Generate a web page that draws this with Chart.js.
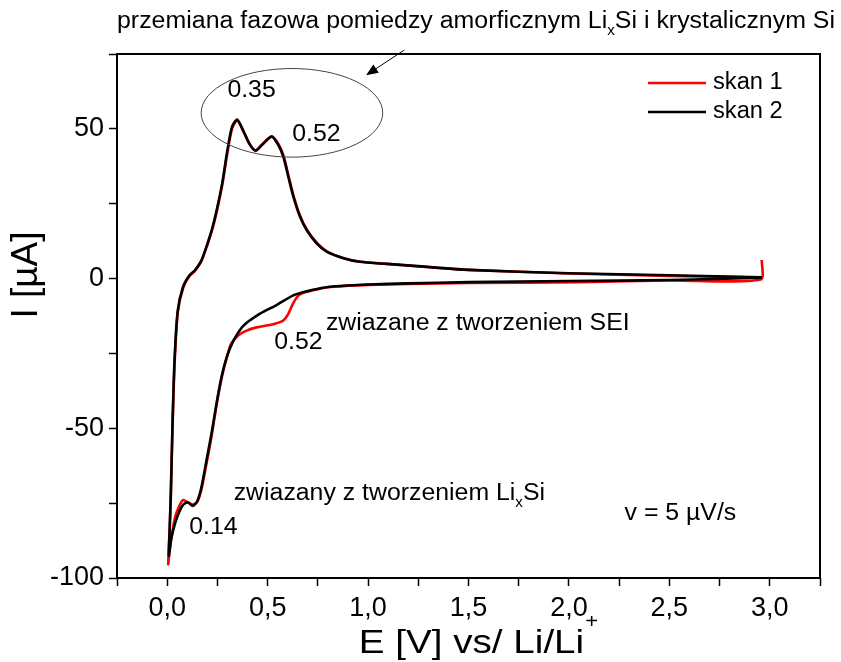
<!DOCTYPE html>
<html>
<head>
<meta charset="utf-8">
<script src="https://cdn.jsdelivr.net/npm/chart.js@4.4.0/dist/chart.umd.min.js"></script>
<style>
    html, body { margin: 0; padding: 0; background: #fff; }
</style>
</head>
<body>
<canvas id="cvChart" width="841" height="662"></canvas>
<script>
// Series names and colours
var seriesNames = ['skan 1', 'skan 2'];
var seriesColors = ['#ff0000', '#000000'];

// Scan 1 (red): cathodic sweep 2.96 -> 0 V, then anodic back to 2.96 V
var scan1E = [2.96, 2.955, 2.5, 2.06, 1.5, 1.2, 1.0, 0.9, 0.8, 0.72, 0.675, 0.65, 0.625, 0.603, 0.578, 0.54, 0.495, 0.445, 0.395, 0.353, 0.318, 0.296, 0.27, 0.245, 0.22, 0.195, 0.17, 0.15, 0.128, 0.1, 0.078, 0.06, 0.04, 0.022, 0.01, 0.005,
              0.012, 0.018, 0.026, 0.037, 0.053, 0.08, 0.11, 0.137, 0.17, 0.2, 0.226, 0.251, 0.276, 0.301, 0.324, 0.349, 0.379, 0.41, 0.44, 0.47, 0.52, 0.555, 0.58, 0.605, 0.63, 0.663, 0.696, 0.746, 0.796, 0.88, 0.96, 1.093, 1.3, 1.5, 2.0, 2.5, 2.96];
var scan1I = [6.2, -0.3, -0.6, -1.2, -1.5, -1.8, -2.1, -2.4, -2.9, -4.0, -4.8, -5.9, -8.5, -11.8, -14.0, -15.0, -15.7, -16.3, -17.4, -19.0, -21.8, -26.5, -33.5, -42.5, -53.0, -62.0, -70.5, -74.5, -75.5, -74.6, -74.0, -76.0, -79.5, -86.0, -92.0, -95.4,
              -84.0, -72.0, -50.0, -28.0, -11.0, -3.0, 0.8, 2.5, 5.8, 11.3, 16.8, 23.7, 32.0, 42.6, 50.3, 52.8, 49.2, 44.8, 42.6, 44.6, 47.5, 44.8, 40.8, 34.0, 27.4, 20.7, 16.2, 11.8, 9.0, 6.8, 5.6, 4.9, 3.8, 2.9, 1.7, 0.9, 0.3];

// Scan 2 (black)
var scan2E = [2.96, 2.5, 2.0, 1.5, 1.2, 1.0, 0.9, 0.8, 0.72, 0.675, 0.625, 0.54, 0.46, 0.38, 0.33, 0.296, 0.27, 0.245, 0.22, 0.195, 0.17, 0.15, 0.128, 0.103, 0.08, 0.062, 0.04, 0.02, 0.008,
              0.012, 0.018, 0.026, 0.036, 0.052, 0.078, 0.11, 0.137, 0.17, 0.2, 0.225, 0.25, 0.275, 0.3, 0.322, 0.348, 0.378, 0.41, 0.44, 0.47, 0.52, 0.553, 0.578, 0.603, 0.628, 0.661, 0.694, 0.744, 0.794, 0.877, 0.96, 1.093, 1.3, 1.5, 2.0, 2.5, 2.96];
var scan2I = [0.3, -0.5, -0.8, -1.2, -1.6, -2.0, -2.3, -2.8, -3.8, -4.6, -5.7, -9.0, -11.8, -15.7, -20.7, -26.3, -33.0, -41.9, -52.0, -60.9, -69.8, -74.3, -75.9, -74.8, -75.5, -77.6, -81.5, -87.0, -92.6,
              -84.0, -72.0, -50.0, -28.0, -11.0, -2.9, 1.0, 2.7, 6.0, 11.6, 17.0, 24.0, 32.3, 43.0, 50.5, 53.1, 49.5, 45.0, 42.8, 44.5, 47.4, 44.6, 40.7, 34.0, 27.4, 20.7, 16.2, 11.8, 9.0, 6.8, 5.6, 4.9, 3.9, 2.9, 1.8, 1.1, 0.4];

// Axis ranges
var xMin = -0.25, xMax = 3.25, xStep = 0.25;
var yMin = -100, yMax = 75, yStep = 25;

function toPoints(es, is) {
    return es.map(function (e, k) { return { x: e, y: is[k] }; });
}

var FONT = '"Liberation Sans", Arial, sans-serif';

// draw text squeezed/stretched horizontally, returns drawn width
function putText(ctx, txt, x, y, size, sx, align, base) {
    ctx.save();
    ctx.font = size + 'px ' + FONT;
    ctx.textBaseline = base || 'middle';
    ctx.textAlign = 'left';
    var w = ctx.measureText(txt).width * sx;
    var x0 = x;
    if (align === 'center') x0 = x - w / 2;
    if (align === 'right') x0 = x - w;
    ctx.translate(x0, y);
    ctx.scale(sx, 1);
    ctx.fillStyle = '#000';
    ctx.fillText(txt, 0, 0);
    ctx.restore();
    return w;
}

function textWidth(ctx, txt, size) {
    ctx.save();
    ctx.font = size + 'px ' + FONT;
    var w = ctx.measureText(txt).width;
    ctx.restore();
    return w;
}

// annotations (data units)
var notes = [
    { t: '0.35', e: 0.42, i: 62.9, align: 'center' },
    { t: '0.52', e: 0.743, i: 48.2, align: 'center' },
    { t: '0.52', e: 0.653, i: -21.3, align: 'center' },
    { t: '0.14', e: 0.23, i: -83.3, align: 'center' },
    { t: 'zwiazane z tworzeniem SEI', e: 0.79, i: -15.0, align: 'left' },
    { t: 'v = 5 \u00b5V/s', e: 2.555, i: -78.6, align: 'center' }
];

var decorPlugin = {
    id: 'decor',
    afterDraw: function (chart) {
        var ctx = chart.ctx;
        var a = chart.chartArea;
        var sx = chart.scales.x, sy = chart.scales.y;
        var px = function (e) { return sx.getPixelForValue(e); };
        var py = function (i) { return sy.getPixelForValue(i); };

        // frame
        ctx.save();
        ctx.strokeStyle = '#000';
        ctx.lineWidth = 2;
        ctx.strokeRect(a.left, a.top, a.right - a.left, a.bottom - a.top);
        ctx.restore();

        // ellipse round the anodic peaks
        ctx.save();
        ctx.strokeStyle = '#444';
        ctx.lineWidth = 1;
        ctx.beginPath();
        var cx = px(0.621), cy = py(55.35);
        ctx.ellipse(cx, cy, px(0.621 + 0.452) - cx, cy - py(55.35 + 14.8), 0, 0, Math.PI * 2);
        ctx.stroke();
        ctx.restore();

        // arrow
        var tx = px(1.18), ty = py(76.3), hx = px(0.99), hy = py(67.9);
        var ang = Math.atan2(hy - ty, hx - tx);
        ctx.save();
        ctx.strokeStyle = '#000';
        ctx.fillStyle = '#000';
        ctx.lineWidth = 1;
        ctx.beginPath();
        ctx.moveTo(tx, ty);
        ctx.lineTo(hx - 8 * Math.cos(ang), hy - 8 * Math.sin(ang));
        ctx.stroke();
        ctx.beginPath();
        ctx.moveTo(hx, hy);
        ctx.lineTo(hx - 12 * Math.cos(ang) + 5 * Math.sin(ang), hy - 12 * Math.sin(ang) - 5 * Math.cos(ang));
        ctx.lineTo(hx - 12 * Math.cos(ang) - 5 * Math.sin(ang), hy - 12 * Math.sin(ang) + 5 * Math.cos(ang));
        ctx.closePath();
        ctx.fill();
        ctx.restore();

        // top caption with Li_x subscript, fitted across the plot
        var p1 = 'przemiana fazowa pomiedzy amorficznym Li', p2 = 'x', p3 = 'Si i krystalicznym Si';
        var fs = 23, subFs = 14;
        var raw = textWidth(ctx, p1, fs) + textWidth(ctx, p2, subFs) + textWidth(ctx, p3, fs);
        var k = (835 - a.left) / raw;
        var x = a.left, y = 22;
        x += putText(ctx, p1, x, y, fs, k, 'left');
        x += putText(ctx, p2, x, y + 9, subFs, k, 'left');
        putText(ctx, p3, x, y, fs, k, 'left');

        // annotations
        notes.forEach(function (n) {
            putText(ctx, n.t, px(n.e), py(n.i), 23, 1.08, n.align);
        });
        x = px(0.331); y = py(-71.9);
        x += putText(ctx, 'zwiazany z tworzeniem Li', x, y, 23, 1.08, 'left');
        x += putText(ctx, 'x', x, y + 9, 14, 1.08, 'left');
        putText(ctx, 'Si', x, y, 23, 1.08, 'left');

        // legend
        var lx = a.right - 172, ly = a.top + 29;
        seriesNames.forEach(function (name, j) {
            var yy = ly + j * 29;
            ctx.save();
            ctx.strokeStyle = seriesColors[j];
            ctx.lineWidth = 2.5;
            ctx.beginPath();
            ctx.moveTo(lx, yy);
            ctx.lineTo(lx + 58, yy);
            ctx.stroke();
            ctx.restore();
            putText(ctx, name, lx + 65, yy, 23, 1.03, 'left');
        });

        // axis titles
        var xt = 'E [V] vs/ Li/Li';
        var xw = textWidth(ctx, xt, 33) * 1.17;
        var xs = (a.left + a.right) / 2 - xw / 2 + 3;
        putText(ctx, xt, xs, 653, 33, 1.17, 'left', 'alphabetic');
        putText(ctx, '+', xs + xw + 1, 628, 20, 1.1, 'left', 'alphabetic');

        ctx.save();
        ctx.translate(27, 275);
        ctx.rotate(-Math.PI / 2);
        ctx.font = '37px ' + FONT;
        ctx.fillStyle = '#000';
        ctx.textAlign = 'center';
        ctx.textBaseline = 'middle';
        ctx.fillText('I [\u00b5A]', 0, 0);
        ctx.restore();
    }
};

var ctxCv = document.getElementById('cvChart').getContext('2d');
var cvChart = new Chart(ctxCv, {
    type: 'scatter',
    data: {
        datasets: [{
            label: seriesNames[0],
            data: toPoints(scan1E, scan1I),
            borderColor: seriesColors[0],
            showLine: true,
            order: 2
        }, {
            label: seriesNames[1],
            data: toPoints(scan2E, scan2I),
            borderColor: seriesColors[1],
            showLine: true,
            order: 1
        }]
    },
    options: {
        responsive: false,
        animation: false,
        layout: { padding: { left: 0, top: 54, right: 21, bottom: 0 } },
        elements: {
            point: { radius: 0, hoverRadius: 0 },
            line: { borderWidth: 2.6, tension: 0.25, fill: false }
        },
        plugins: {
            legend: { display: false },
            tooltip: { enabled: false }
        },
        scales: {
            x: {
                type: 'linear',
                min: xMin,
                max: xMax,
                afterFit: function (s) { s.height = 84; },
                border: { display: false },
                grid: { drawOnChartArea: false, tickLength: 8, tickColor: '#000', tickWidth: 1.5 },
                ticks: {
                    stepSize: xStep,
                    autoSkip: false,
                    maxRotation: 0,
                    padding: 6,
                    color: '#000',
                    font: { family: FONT, size: 27 },
                    callback: function (v) {
                        var q = Math.round(v * 4);
                        if (q % 2 !== 0 || v < 0 || v > 3) return '';
                        return v.toFixed(1).replace('.', ',');
                    }
                }
            },
            y: {
                min: yMin,
                max: yMax,
                afterFit: function (s) { s.width = 117; },
                border: { display: false },
                grid: { drawOnChartArea: false, tickLength: 8, tickColor: '#000', tickWidth: 1.5 },
                ticks: {
                    stepSize: yStep,
                    autoSkip: false,
                    padding: 5,
                    color: '#000',
                    font: { family: FONT, size: 27 },
                    callback: function (v) {
                        return (v % 50 === 0) ? String(v) : '';
                    }
                }
            }
        }
    },
    plugins: [decorPlugin]
});
</script>
</body>
</html>
